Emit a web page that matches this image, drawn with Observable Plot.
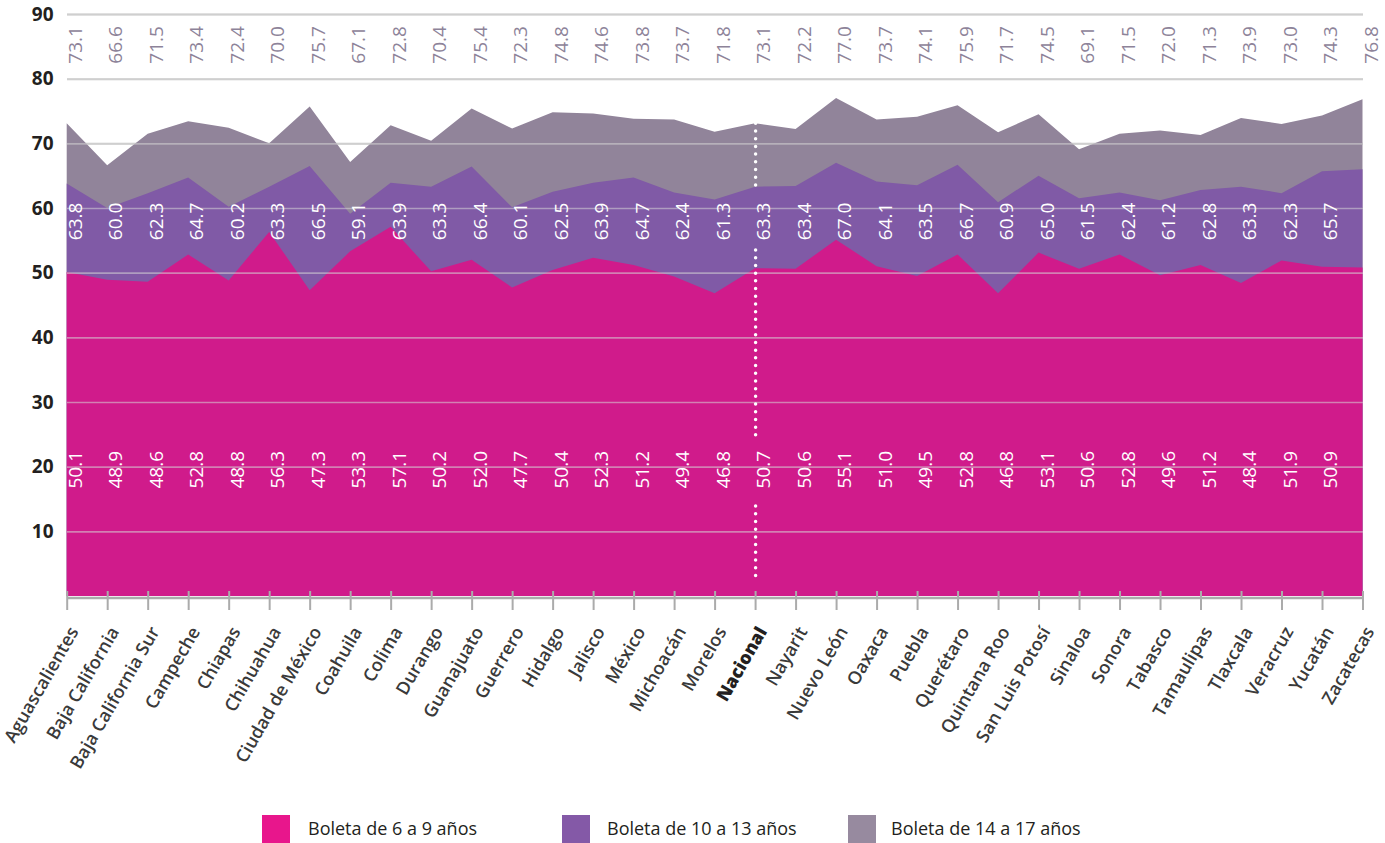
<!DOCTYPE html>
<html>
<head>
<meta charset="utf-8">
<script src="https://cdn.jsdelivr.net/npm/d3@7"></script>
<script src="https://cdn.jsdelivr.net/npm/@observablehq/plot@0.6"></script>
<style>
  body { margin: 0; background: #fff; font-family: "Open Sans", sans-serif; }
  #chart { width: 1385px; height: 814px; }
  #legend { position: relative; width: 1385px; height: 29px; }
  .sw { position: absolute; top: 1px; width: 28px; height: 28px; }
  .lb { position: absolute; top: 0px; font-size: 18px; line-height: 28px; color: #231f20; white-space: nowrap; }
</style>
</head>
<body>
<div id="chart"></div>
<div id="legend"></div>
<script>
const states = ["Aguascalientes","Baja California","Baja California Sur","Campeche","Chiapas","Chihuahua","Ciudad de México","Coahuila","Colima","Durango","Guanajuato","Guerrero","Hidalgo","Jalisco","México","Michoacán","Morelos","Nacional","Nayarit","Nuevo León","Oaxaca","Puebla","Querétaro","Quintana Roo","San Luis Potosí","Sinaloa","Sonora","Tabasco","Tamaulipas","Tlaxcala","Veracruz","Yucatán","Zacatecas"];

const boleta6a9 = [50.1,48.9,48.6,52.8,48.8,56.3,47.3,53.3,57.1,50.2,52.0,47.7,50.4,52.3,51.2,49.4,46.8,50.7,50.6,55.1,51.0,49.5,52.8,46.8,53.1,50.6,52.8,49.6,51.2,48.4,51.9,50.9,50.8];
const boleta10a13 = [63.8,60.0,62.3,64.7,60.2,63.3,66.5,59.1,63.9,63.3,66.4,60.1,62.5,63.9,64.7,62.4,61.3,63.3,63.4,67.0,64.1,63.5,66.7,60.9,65.0,61.5,62.4,61.2,62.8,63.3,62.3,65.7,66.0];
const boleta14a17 = [73.1,66.6,71.5,73.4,72.4,70.0,75.7,67.1,72.8,70.4,75.4,72.3,74.8,74.6,73.8,73.7,71.8,73.1,72.2,77.0,73.7,74.1,75.9,71.7,74.5,69.1,71.5,72.0,71.3,73.9,73.0,74.3,76.8];

const yTicks = [10,20,30,40,50,60,70,80,90];
const seriesNames = ["Boleta de 6 a 9 años","Boleta de 10 a 13 años","Boleta de 14 a 17 años"];
const highlight = "Nacional";

// styling
const areaColors = ["#d01b8b","#805aa6","#91849a"];
const legendColors = ["#e8168c","#8459a7","#978a9f"];
const grayLabel = "#8d8399";
const fontFamily = "'Open Sans', sans-serif";

const idx = d3.range(states.length);
const X = i => states[i];
const fmt = v => v.toFixed(1);

// label rows (value positions of the rotated labels)
const rowGray = 85.3, rowPurple = 58, rowPink = 19.6;
const nacI = states.indexOf(highlight);
const dotted = [
  {y1: boleta14a17[nacI], y2: rowPurple + 4.5},
  {y1: rowPurple - 4.5, y2: rowPink + 5.3},
  {y1: rowPink - 5.7, y2: 2.2}
];

const plot = Plot.plot({
  width: 1385,
  height: 814,
  marginLeft: 67,
  marginRight: 22,
  marginTop: 14,
  marginBottom: 218,
  x: {type: "point", domain: states, padding: 0, round: false, range: [66.7, 1362.5], axis: null},
  y: {domain: [0, 90], axis: null},
  style: {fontFamily, background: "#fff", overflow: "visible"},
  marks: [
    Plot.ruleY(yTicks, {stroke: "#c8c8c8", strokeWidth: 2}),
    Plot.areaY(idx, {x: X, y1: 0, y2: i => boleta14a17[i], fill: areaColors[2]}),
    Plot.areaY(idx, {x: X, y1: 0, y2: i => boleta10a13[i], fill: areaColors[1]}),
    Plot.areaY(idx, {x: X, y1: 0, y2: i => boleta6a9[i], fill: areaColors[0]}),
    Plot.ruleY(yTicks, {stroke: "#d6d6d6", strokeOpacity: 0.55, strokeWidth: 1.6}),
    Plot.ruleY([0], {stroke: "#ababab", strokeWidth: 2.5, dy: 1.5}),
    Plot.axisX({tickSize: 19, dy: -5, tickFormat: () => "", color: "#ababab", strokeWidth: 2, label: null}),
    Plot.axisY(yTicks, {tickSize: 0, tickPadding: 14, fontSize: 19, fontWeight: 700, color: "#231f20", label: null}),
    Plot.ruleX(dotted, {x: () => highlight, y1: "y1", y2: "y2", stroke: "#fff", strokeWidth: 3.5, strokeDasharray: "0 7.7", strokeLinecap: "round"}),
    Plot.text(idx, {x: X, y: () => rowGray, text: i => fmt(boleta14a17[i]), rotate: -90, textAnchor: "middle", lineAnchor: "top", dx: 1, fill: grayLabel, fontSize: 19}),
    Plot.text(idx, {x: X, y: () => rowPurple, text: i => fmt(boleta10a13[i]), rotate: -90, textAnchor: "middle", lineAnchor: "top", dx: 1, fill: "#fff", fontSize: 19}),
    Plot.text(idx, {x: X, y: () => rowPink, text: i => fmt(boleta6a9[i]), rotate: -90, textAnchor: "middle", lineAnchor: "top", dx: 1, fill: "#fff", fontSize: 19}),
    Plot.text(states.filter(s => s !== highlight), {x: d => d, frameAnchor: "bottom", rotate: -60, textAnchor: "end", lineAnchor: "middle", dx: 7, dy: 32, fontSize: 18, fontWeight: 600, fill: "#3a3a3a"}),
    Plot.text([highlight], {x: d => d, frameAnchor: "bottom", rotate: -60, textAnchor: "end", lineAnchor: "middle", dx: 7, dy: 32, fontSize: 18, fontWeight: 800, fill: "#231f20"})
  ]
});
document.getElementById("chart").appendChild(plot);

// legend
const legend = d3.select("#legend");
const swX = [262, 562, 848], lbX = [308, 607, 891];
seriesNames.forEach((name, k) => {
  legend.append("div").attr("class", "sw").style("left", swX[k] + "px").style("background", legendColors[k]);
  legend.append("div").attr("class", "lb").style("left", lbX[k] + "px").text(name);
});
</script>
</body>
</html>
